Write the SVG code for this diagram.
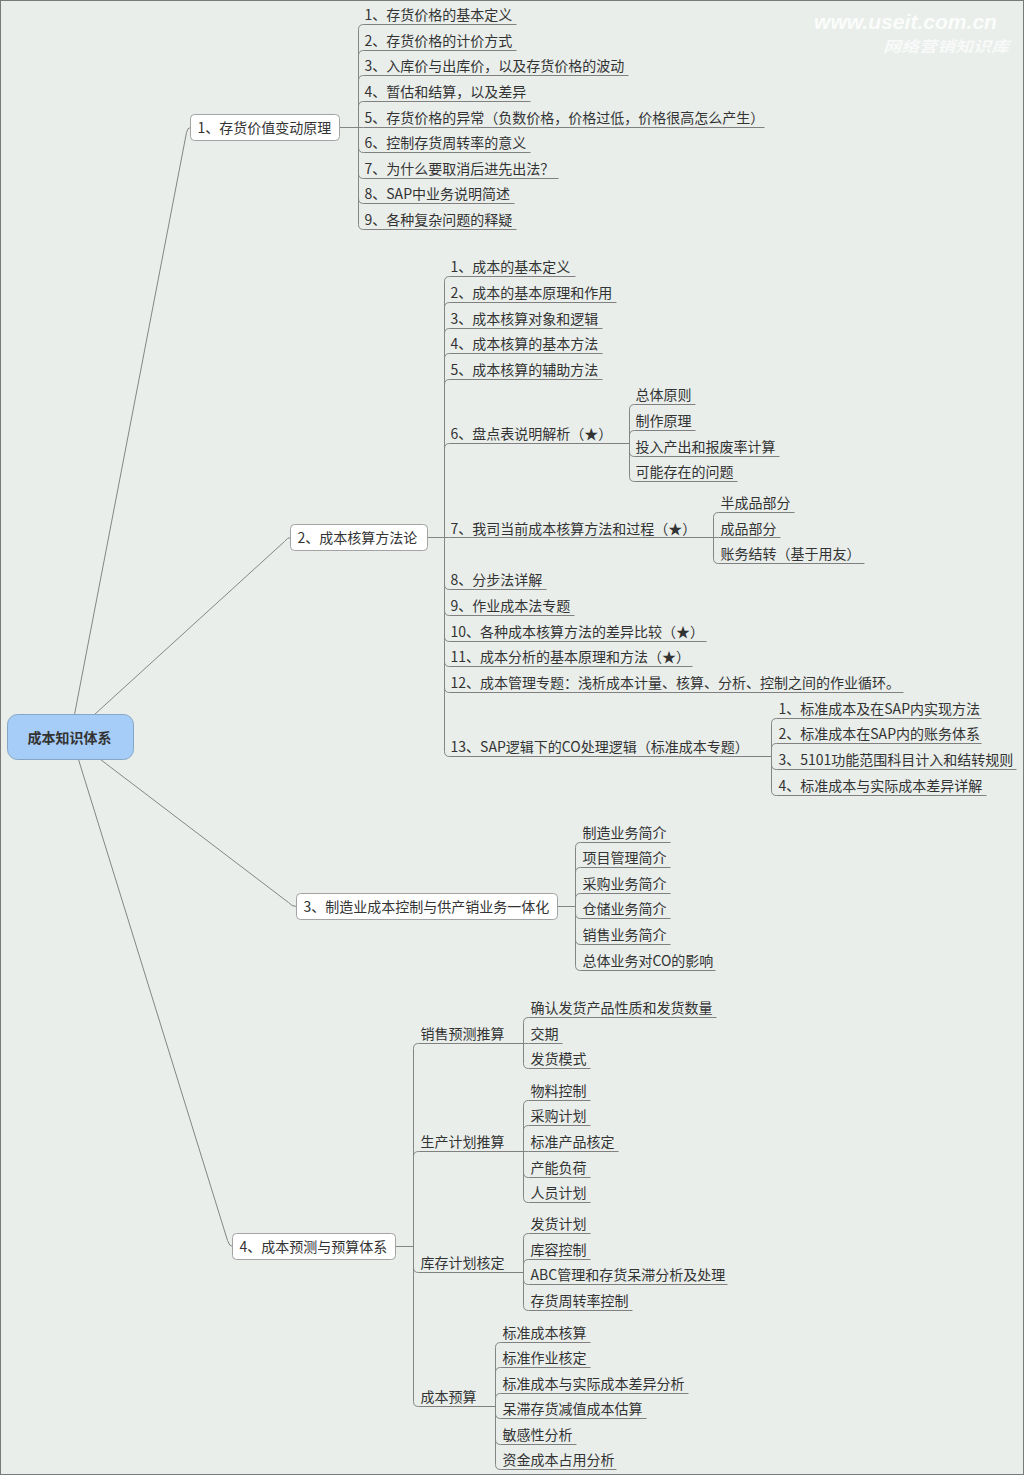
<svg xmlns="http://www.w3.org/2000/svg" width="1024" height="1475" viewBox="0 0 1024 1475">
<style>
.t{font-family:"Noto Sans CJK SC","Microsoft YaHei",sans-serif;font-size:14px;fill:#333}
.u{stroke:#808080;stroke-width:1;fill:none}
.c path{stroke:#858585;stroke-width:1;fill:none}
.box{fill:#ffffff;stroke:#a3a3a3;stroke-width:1}
.wm{font-family:"Liberation Sans",Arial,sans-serif;font-style:italic;font-weight:bold;fill:#ffffff}
</style>
<rect x="0.5" y="0.5" width="1023" height="1474" fill="#e9eeeb" stroke="#7a7a7a"/>
<g id="watermark">
<text class="wm" x="814" y="29" font-size="20" textLength="183" lengthAdjust="spacingAndGlyphs" fill-opacity="0.85">www.useit.com.cn</text>
<text class="wm" x="883" y="52" font-size="15" textLength="126" lengthAdjust="spacingAndGlyphs" fill-opacity="0.7" style="font-family:'Noto Sans CJK SC',sans-serif">网络营销知识库</text>
</g>
<g transform="translate(0.5 0.5)">
<g id="connectors" class="c">
<path d="M74 714 L186 132 Q187 127 190 127"/>
<path d="M94 714 L284 541 Q287 537 290 537"/>
<path d="M100 759 L288 902 Q291 906 296 906"/>
<path d="M78 759 L227 1240 Q229 1246 232 1246"/>
<path d="M339 127 H358"/>
<path d="M358 127 V29 Q358 24 363 24"/>
<path d="M358 127 V55 Q358 50 363 50"/>
<path d="M358 127 V80 Q358 75 363 75"/>
<path d="M358 127 V106 Q358 101 363 101"/>
<path d="M358 127 H363"/>
<path d="M358 127 V147 Q358 152 363 152"/>
<path d="M358 127 V173 Q358 178 363 178"/>
<path d="M358 127 V198 Q358 203 363 203"/>
<path d="M358 127 V224 Q358 229 363 229"/>
<path d="M427 537 H444"/>
<path d="M444 537 V281 Q444 276 449 276"/>
<path d="M444 537 V307 Q444 302 449 302"/>
<path d="M444 537 V333 Q444 328 449 328"/>
<path d="M444 537 V358 Q444 353 449 353"/>
<path d="M444 537 V384 Q444 379 449 379"/>
<path d="M444 537 V448 Q444 443 449 443"/>
<path d="M444 537 H449"/>
<path d="M444 537 V584 Q444 589 449 589"/>
<path d="M444 537 V610 Q444 615 449 615"/>
<path d="M444 537 V636 Q444 641 449 641"/>
<path d="M444 537 V661 Q444 666 449 666"/>
<path d="M444 537 V687 Q444 692 449 692"/>
<path d="M444 537 V751 Q444 756 449 756"/>
<path d="M629 443 V409 Q629 404 634 404"/>
<path d="M629 443 V435 Q629 430 634 430"/>
<path d="M629 443 V451 Q629 456 634 456"/>
<path d="M629 443 V476 Q629 481 634 481"/>
<path d="M713 537 V517 Q713 512 718 512"/>
<path d="M713 537 H718"/>
<path d="M713 537 V558 Q713 563 718 563"/>
<path d="M771 756 V723 Q771 718 776 718"/>
<path d="M771 756 V748 Q771 743 776 743"/>
<path d="M771 756 V764 Q771 769 776 769"/>
<path d="M771 756 V790 Q771 795 776 795"/>
<path d="M557 906 H575"/>
<path d="M575 906 V847 Q575 842 580 842"/>
<path d="M575 906 V872 Q575 867 580 867"/>
<path d="M575 906 V898 Q575 893 580 893"/>
<path d="M575 906 V913 Q575 918 580 918"/>
<path d="M575 906 V939 Q575 944 580 944"/>
<path d="M575 906 V965 Q575 970 580 970"/>
<path d="M395 1246 H413"/>
<path d="M413 1246 V1048 Q413 1043 418 1043"/>
<path d="M413 1246 V1156 Q413 1151 418 1151"/>
<path d="M413 1246 V1267 Q413 1272 418 1272"/>
<path d="M413 1246 V1401 Q413 1406 418 1406"/>
<path d="M523 1043 V1022 Q523 1017 528 1017"/>
<path d="M523 1043 H528"/>
<path d="M523 1043 V1063 Q523 1068 528 1068"/>
<path d="M523 1151 V1105 Q523 1100 528 1100"/>
<path d="M523 1151 V1130 Q523 1125 528 1125"/>
<path d="M523 1151 H528"/>
<path d="M523 1151 V1172 Q523 1177 528 1177"/>
<path d="M523 1151 V1197 Q523 1202 528 1202"/>
<path d="M523 1272 V1238 Q523 1233 528 1233"/>
<path d="M523 1272 V1264 Q523 1259 528 1259"/>
<path d="M523 1272 V1279 Q523 1284 528 1284"/>
<path d="M523 1272 V1305 Q523 1310 528 1310"/>
<path d="M495 1406 V1347 Q495 1342 500 1342"/>
<path d="M495 1406 V1372 Q495 1367 500 1367"/>
<path d="M495 1406 V1398 Q495 1393 500 1393"/>
<path d="M495 1406 V1413 Q495 1418 500 1418"/>
<path d="M495 1406 V1439 Q495 1444 500 1444"/>
<path d="M495 1406 V1464 Q495 1469 500 1469"/>
</g>

<g id="root">
<rect x="7" y="714" width="126" height="45" rx="10" fill="#a6cdf8" stroke="#86a6c6"/>
<text x="69" y="742" text-anchor="middle" style="font-family:'Noto Sans CJK SC',sans-serif;font-size:14px;font-weight:bold;fill:#333">成本知识体系</text>
</g>

<g id="b1"><rect class="box" x="190" y="114" width="149" height="26" rx="4"/><text class="t" x="197" y="132">1、存货价值变动原理</text></g>
<g id="b1-1"><line class="u" x1="363" y1="24" x2="516" y2="24"/><text class="t" x="364" y="19">1、存货价格的基本定义</text></g>
<g id="b1-2"><line class="u" x1="363" y1="50" x2="516" y2="50"/><text class="t" x="364" y="45">2、存货价格的计价方式</text></g>
<g id="b1-3"><line class="u" x1="363" y1="75" x2="628" y2="75"/><text class="t" x="364" y="70">3、入库价与出库价，以及存货价格的波动</text></g>
<g id="b1-4"><line class="u" x1="363" y1="101" x2="530" y2="101"/><text class="t" x="364" y="96">4、暂估和结算，以及差异</text></g>
<g id="b1-5"><line class="u" x1="363" y1="127" x2="764" y2="127"/><text class="t" x="364" y="122">5、存货价格的异常（负数价格，价格过低，价格很高怎么产生）</text></g>
<g id="b1-6"><line class="u" x1="363" y1="152" x2="530" y2="152"/><text class="t" x="364" y="147">6、控制存货周转率的意义</text></g>
<g id="b1-7"><line class="u" x1="363" y1="178" x2="558" y2="178"/><text class="t" x="364" y="173">7、为什么要取消后进先出法？</text></g>
<g id="b1-8"><line class="u" x1="363" y1="203" x2="514" y2="203"/><text class="t" x="364" y="198">8、SAP中业务说明简述</text></g>
<g id="b1-9"><line class="u" x1="363" y1="229" x2="516" y2="229"/><text class="t" x="364" y="224">9、各种复杂问题的释疑</text></g>

<g id="b2"><rect class="box" x="290" y="524" width="137" height="26" rx="4"/><text class="t" x="297" y="542">2、成本核算方法论</text></g>
<g id="b2-1"><line class="u" x1="449" y1="276" x2="575" y2="276"/><text class="t" x="450" y="271">1、成本的基本定义</text></g>
<g id="b2-2"><line class="u" x1="449" y1="302" x2="616" y2="302"/><text class="t" x="450" y="297">2、成本的基本原理和作用</text></g>
<g id="b2-3"><line class="u" x1="449" y1="328" x2="602" y2="328"/><text class="t" x="450" y="323">3、成本核算对象和逻辑</text></g>
<g id="b2-4"><line class="u" x1="449" y1="353" x2="602" y2="353"/><text class="t" x="450" y="348">4、成本核算的基本方法</text></g>
<g id="b2-5"><line class="u" x1="449" y1="379" x2="602" y2="379"/><text class="t" x="450" y="374">5、成本核算的辅助方法</text></g>
<g id="b2-6"><line class="u" x1="449" y1="443" x2="629" y2="443"/><text class="t" x="450" y="438">6、盘点表说明解析（★）</text></g>
<g id="b2-6-1"><line class="u" x1="634" y1="404" x2="695" y2="404"/><text class="t" x="635" y="399">总体原则</text></g>
<g id="b2-6-2"><line class="u" x1="634" y1="430" x2="695" y2="430"/><text class="t" x="635" y="425">制作原理</text></g>
<g id="b2-6-3"><line class="u" x1="634" y1="456" x2="779" y2="456"/><text class="t" x="635" y="451">投入产出和报废率计算</text></g>
<g id="b2-6-4"><line class="u" x1="634" y1="481" x2="737" y2="481"/><text class="t" x="635" y="476">可能存在的问题</text></g>
<g id="b2-7"><line class="u" x1="449" y1="537" x2="713" y2="537"/><text class="t" x="450" y="533">7、我司当前成本核算方法和过程（★）</text></g>
<g id="b2-7-1"><line class="u" x1="718" y1="512" x2="794" y2="512"/><text class="t" x="720" y="507">半成品部分</text></g>
<g id="b2-7-2"><line class="u" x1="718" y1="537" x2="780" y2="537"/><text class="t" x="720" y="533">成品部分</text></g>
<g id="b2-7-3"><line class="u" x1="718" y1="563" x2="864" y2="563"/><text class="t" x="720" y="558">账务结转（基于用友）</text></g>
<g id="b2-8"><line class="u" x1="449" y1="589" x2="546" y2="589"/><text class="t" x="450" y="584">8、分步法详解</text></g>
<g id="b2-9"><line class="u" x1="449" y1="615" x2="574" y2="615"/><text class="t" x="450" y="610">9、作业成本法专题</text></g>
<g id="b2-10"><line class="u" x1="449" y1="641" x2="706" y2="641"/><text class="t" x="450" y="636">10、各种成本核算方法的差异比较（★）</text></g>
<g id="b2-11"><line class="u" x1="449" y1="666" x2="692" y2="666"/><text class="t" x="450" y="661">11、成本分析的基本原理和方法（★）</text></g>
<g id="b2-12"><line class="u" x1="449" y1="692" x2="903" y2="692"/><text class="t" x="450" y="687">12、成本管理专题：浅析成本计量、核算、分析、控制之间的作业循环。</text></g>
<g id="b2-13"><line class="u" x1="449" y1="756" x2="771" y2="756"/><text class="t" x="450" y="751">13、SAP逻辑下的CO处理逻辑（标准成本专题）</text></g>
<g id="b2-13-1"><line class="u" x1="776" y1="718" x2="981" y2="718"/><text class="t" x="778" y="713">1、标准成本及在SAP内实现方法</text></g>
<g id="b2-13-2"><line class="u" x1="776" y1="743" x2="981" y2="743"/><text class="t" x="778" y="738">2、标准成本在SAP内的账务体系</text></g>
<g id="b2-13-3"><line class="u" x1="776" y1="769" x2="1016" y2="769"/><text class="t" x="778" y="764">3、5101功能范围科目计入和结转规则</text></g>
<g id="b2-13-4"><line class="u" x1="776" y1="795" x2="986" y2="795"/><text class="t" x="778" y="790">4、标准成本与实际成本差异详解</text></g>

<g id="b3"><rect class="box" x="296" y="893" width="261" height="26" rx="4"/><text class="t" x="303" y="911">3、制造业成本控制与供产销业务一体化</text></g>
<g id="b3-1"><line class="u" x1="580" y1="842" x2="670" y2="842"/><text class="t" x="582" y="837">制造业务简介</text></g>
<g id="b3-2"><line class="u" x1="580" y1="867" x2="670" y2="867"/><text class="t" x="582" y="862">项目管理简介</text></g>
<g id="b3-3"><line class="u" x1="580" y1="893" x2="670" y2="893"/><text class="t" x="582" y="888">采购业务简介</text></g>
<g id="b3-4"><line class="u" x1="580" y1="918" x2="670" y2="918"/><text class="t" x="582" y="913">仓储业务简介</text></g>
<g id="b3-5"><line class="u" x1="580" y1="944" x2="670" y2="944"/><text class="t" x="582" y="939">销售业务简介</text></g>
<g id="b3-6"><line class="u" x1="580" y1="970" x2="715" y2="970"/><text class="t" x="582" y="965">总体业务对CO的影响</text></g>

<g id="b4"><rect class="box" x="232" y="1233" width="163" height="26" rx="4"/><text class="t" x="239" y="1251">4、成本预测与预算体系</text></g>
<g id="b4-1"><line class="u" x1="418" y1="1043" x2="523" y2="1043"/><text class="t" x="420" y="1038">销售预测推算</text></g>
<g id="b4-1-1"><line class="u" x1="528" y1="1017" x2="716" y2="1017"/><text class="t" x="530" y="1012">确认发货产品性质和发货数量</text></g>
<g id="b4-1-2"><line class="u" x1="528" y1="1043" x2="562" y2="1043"/><text class="t" x="530" y="1038">交期</text></g>
<g id="b4-1-3"><line class="u" x1="528" y1="1068" x2="590" y2="1068"/><text class="t" x="530" y="1063">发货模式</text></g>
<g id="b4-2"><line class="u" x1="418" y1="1151" x2="523" y2="1151"/><text class="t" x="420" y="1146">生产计划推算</text></g>
<g id="b4-2-1"><line class="u" x1="528" y1="1100" x2="590" y2="1100"/><text class="t" x="530" y="1095">物料控制</text></g>
<g id="b4-2-2"><line class="u" x1="528" y1="1125" x2="590" y2="1125"/><text class="t" x="530" y="1120">采购计划</text></g>
<g id="b4-2-3"><line class="u" x1="528" y1="1151" x2="618" y2="1151"/><text class="t" x="530" y="1146">标准产品核定</text></g>
<g id="b4-2-4"><line class="u" x1="528" y1="1177" x2="590" y2="1177"/><text class="t" x="530" y="1172">产能负荷</text></g>
<g id="b4-2-5"><line class="u" x1="528" y1="1202" x2="590" y2="1202"/><text class="t" x="530" y="1197">人员计划</text></g>
<g id="b4-3"><line class="u" x1="418" y1="1272" x2="523" y2="1272"/><text class="t" x="420" y="1267">库存计划核定</text></g>
<g id="b4-3-1"><line class="u" x1="528" y1="1233" x2="590" y2="1233"/><text class="t" x="530" y="1228">发货计划</text></g>
<g id="b4-3-2"><line class="u" x1="528" y1="1259" x2="590" y2="1259"/><text class="t" x="530" y="1254">库容控制</text></g>
<g id="b4-3-3"><line class="u" x1="528" y1="1284" x2="727" y2="1284"/><text class="t" x="530" y="1279">ABC管理和存货呆滞分析及处理</text></g>
<g id="b4-3-4"><line class="u" x1="528" y1="1310" x2="632" y2="1310"/><text class="t" x="530" y="1305">存货周转率控制</text></g>
<g id="b4-4"><line class="u" x1="418" y1="1406" x2="495" y2="1406"/><text class="t" x="420" y="1401">成本预算</text></g>
<g id="b4-4-1"><line class="u" x1="500" y1="1342" x2="590" y2="1342"/><text class="t" x="502" y="1337">标准成本核算</text></g>
<g id="b4-4-2"><line class="u" x1="500" y1="1367" x2="590" y2="1367"/><text class="t" x="502" y="1362">标准作业核定</text></g>
<g id="b4-4-3"><line class="u" x1="500" y1="1393" x2="688" y2="1393"/><text class="t" x="502" y="1388">标准成本与实际成本差异分析</text></g>
<g id="b4-4-4"><line class="u" x1="500" y1="1418" x2="646" y2="1418"/><text class="t" x="502" y="1413">呆滞存货减值成本估算</text></g>
<g id="b4-4-5"><line class="u" x1="500" y1="1444" x2="576" y2="1444"/><text class="t" x="502" y="1439">敏感性分析</text></g>
<g id="b4-4-6"><line class="u" x1="500" y1="1469" x2="616" y2="1469"/><text class="t" x="502" y="1464">资金成本占用分析</text></g>
</g>
</svg>
